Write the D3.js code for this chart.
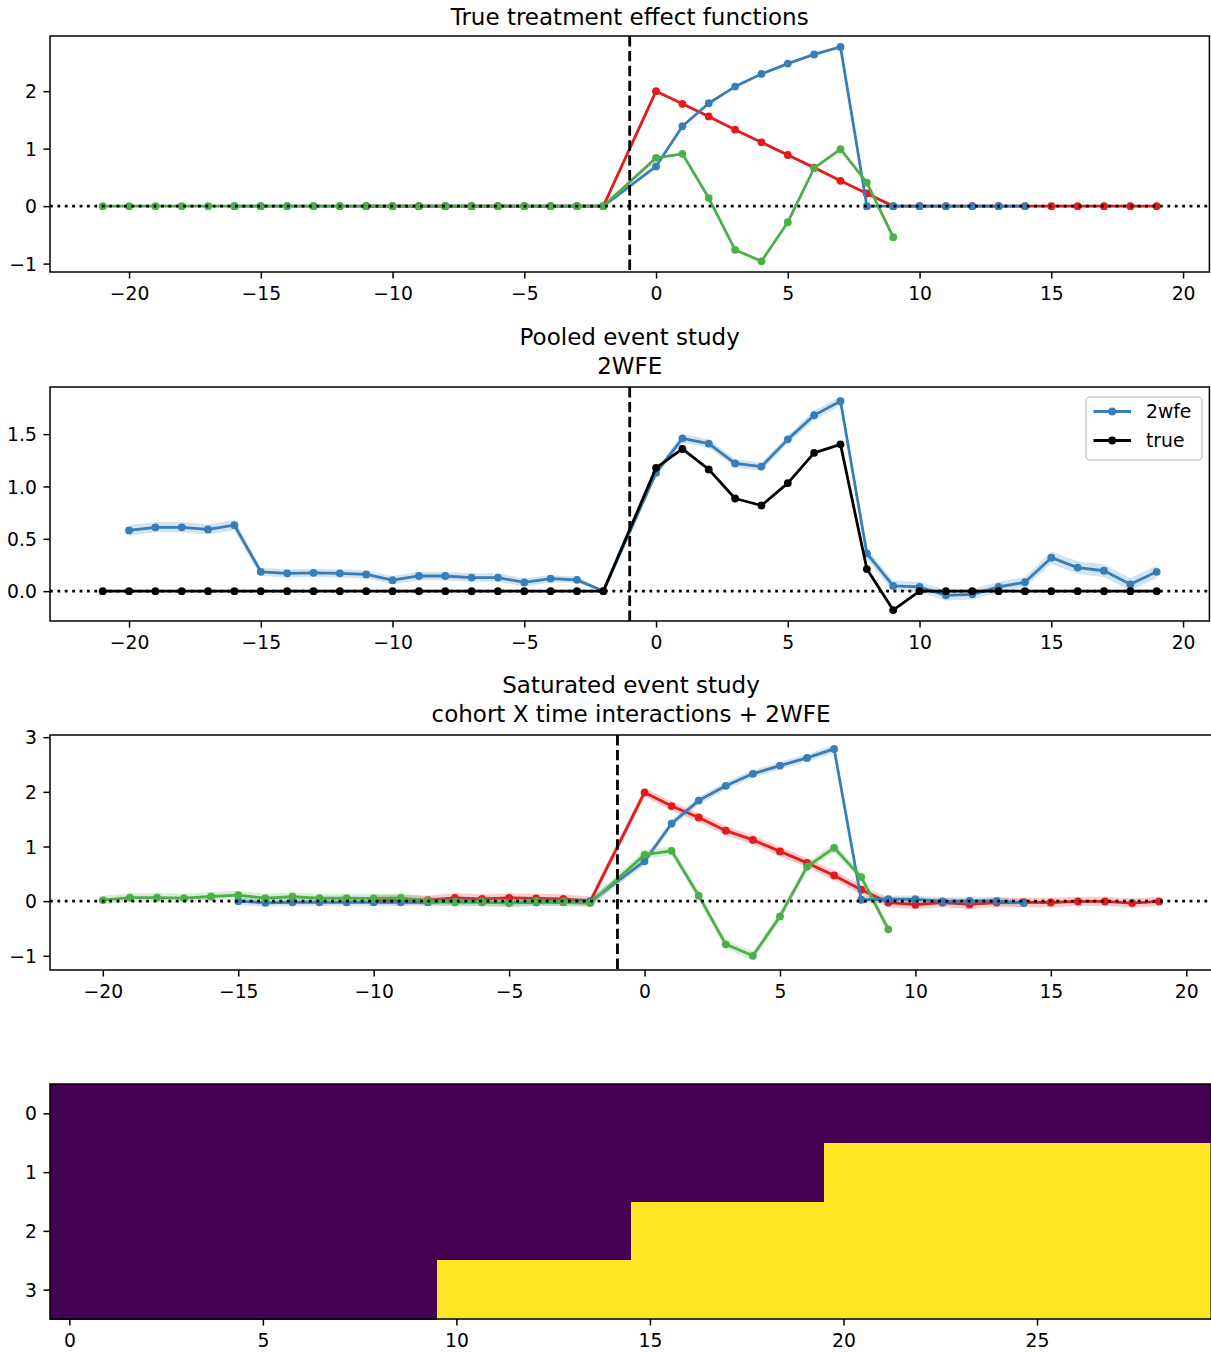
<!DOCTYPE html>
<html lang="en">
<head>
<meta charset="UTF-8">
<title>event study panels</title>
<style>
  body { margin: 0; background: #fff; }
  svg text { font-family: "DejaVu Sans", sans-serif; fill: #000; }
</style>
</head>
<body>
<div id="container"></div>
<script src="https://d3js.org/d3.v7.min.js"></script>
<script>
// event times from a to b, reference period -1 left out
function evt(a, b) { return d3.range(a, b + 1).filter(function(t) { return t !== -1; }); }

// ---- panel 1: true treatment effect functions ----
var p1RedT = evt(-11, 19);
var p1Red = [0,0,0,0,0,0,0,0,0,0, 2.00,1.78,1.56,1.33,1.11,0.89,0.67,0.44,0.22,0.00, 0,0,0,0,0,0,0,0,0,0];
var p1BlueT = evt(-16, 14);
var p1Blue = [0,0,0,0,0,0,0,0,0,0,0,0,0,0,0, 0.69,1.39,1.79,2.08,2.30,2.48,2.64,2.77,0,0,0,0,0,0,0];
var p1GreenT = evt(-21, 9);
var p1Green = [0,0,0,0,0,0,0,0,0,0,0,0,0,0,0,0,0,0,0,0, 0.84,0.91,0.14,-0.76,-0.96,-0.28,0.66,0.99,0.41,-0.54];

// ---- panel 2: pooled event study ----
var p2TrueT = evt(-21, 19);
var p2True = [0,0,0,0,0,0,0,0,0,0,0,0,0,0,0,0,0,0,0,0,
  1.178,1.358,1.163,0.885,0.818,1.032,1.321,1.402,0.211,-0.181, 0,0,0,0,0,0,0,0,0,0];
var p2EstT = evt(-20, 19);
var p2Est = [0.58,0.61,0.61,0.59,0.63,0.185,0.17,0.175,0.17,0.16,0.105,0.145,0.145,0.13,0.13,0.083,0.12,0.108,0.0,
  1.13,1.46,1.41,1.22,1.19,1.45,1.68,1.815,0.36,0.05,0.04,-0.04,-0.03,0.04,0.085,0.32,0.225,0.195,0.065,0.185];
var p2Err = [0.05,0.05,0.05,0.05,0.05,0.04,0.04,0.04,0.04,0.04,0.04,0.04,0.04,0.04,0.04,0.04,0.035,0.03,0.0,
  0.035,0.04,0.04,0.04,0.04,0.04,0.045,0.045,0.05,0.05,0.05,0.05,0.05,0.05,0.05,0.06,0.06,0.06,0.06,0.06];

// ---- panel 3: saturated event study ----
var p3RedT = evt(-10, 19);
var p3Red = [0.03,0.03,0.02,0.06,0.04,0.06,0.05,0.04,0.0,
  1.99,1.74,1.53,1.29,1.12,0.91,0.70,0.47,0.21,-0.025,-0.065,-0.025,-0.06,-0.025,-0.02,-0.025,-0.005,-0.005,-0.035,-0.005];
var p3BlueT = evt(-15, 14);
var p3Blue = [0.0,-0.03,-0.02,-0.02,-0.02,-0.02,-0.02,-0.02,-0.01,-0.02,-0.03,-0.02,-0.02,-0.01,
  0.73,1.42,1.84,2.11,2.33,2.48,2.62,2.785,0.025,0.035,0.035,-0.005,0.005,0.005,-0.035];
var p3GreenT = evt(-20, 9);
var p3Green = [0.02,0.065,0.065,0.055,0.085,0.11,0.055,0.08,0.055,0.055,0.05,0.06,0.005,-0.02,-0.01,-0.035,0.0,-0.01,-0.035,
  0.85,0.92,0.10,-0.79,-1.0,-0.28,0.63,0.975,0.44,-0.515];
var p3RedErr = 0.085, p3BlueErr = 0.07, p3GreenErr = 0.08;

// ---- panel 4: treatment indicator, cohort x period ----
var heatRows = [
  "000000000000000000000000000000",
  "000000000000000000001111111111",
  "000000000000000111111111111111",
  "000000000011111111111111111111"
];

var eventTicks = [-20, -15, -10, -5, 0, 5, 10, 15, 20];
var heatXTicks = [0, 5, 10, 15, 20, 25];
var heatYTicks = [0, 1, 2, 3];

var RED = "#e41a1c", BLUE = "#377eb8", GREEN = "#4daf4a", BLACK = "#000000";

var W = 1211, H = 1352;
var tickFont = 18.75, titleFont = 23, tickLen = 6.56;
var lw = 2.8, dotR = 3.9;

var svg = d3.select("#container").append("svg")
    .attr("width", W)
    .attr("height", H);

function addAxes(g, x, y, box, xt, yt, yfmt) {
  var xa = g.append("g")
      .attr("transform", "translate(0," + box.bottom + ")")
      .call(d3.axisBottom(x).tickValues(xt).tickSize(tickLen).tickPadding(tickLen).tickFormat(d3.format("d")));
  var ya = g.append("g")
      .attr("transform", "translate(" + box.left + ",0)")
      .call(d3.axisLeft(y).tickValues(yt).tickSize(tickLen).tickPadding(tickLen).tickFormat(yfmt));
  [xa, ya].forEach(function(a) {
    a.select(".domain").remove();
    a.selectAll("line").attr("stroke", "#000").attr("stroke-width", 1.5);
    a.selectAll("text").attr("font-size", tickFont).attr("font-family", "DejaVu Sans");
  });
  xa.selectAll("text").attr("dy", "0.78em");
  ya.selectAll("text").attr("dy", "0.35em");
  g.append("rect")
      .attr("x", box.left).attr("y", box.top)
      .attr("width", box.right - box.left).attr("height", box.bottom - box.top)
      .attr("fill", "none").attr("stroke", "#000").attr("stroke-width", 1.5);
}

function addTitle(box, lines) {
  var cx = (box.left + box.right) / 2;
  var base = box.top - (lines.length > 1 ? 13.5 : 11.5);
  lines.slice().reverse().forEach(function(s, i) {
    svg.append("text")
        .attr("x", cx).attr("y", base - i * 28.5)
        .attr("text-anchor", "middle")
        .attr("font-size", titleFont)
        .text(s);
  });
}

function linePanel(name, box, xDom, yDom, yt, yfmt, series, titleLines) {
  var x = d3.scaleLinear().domain(xDom).range([box.left, box.right]);
  var y = d3.scaleLinear().domain(yDom).range([box.bottom, box.top]);
  var g = svg.append("g");

  g.append("clipPath").attr("id", "clip-" + name).append("rect")
      .attr("x", box.left).attr("y", box.top)
      .attr("width", box.right - box.left).attr("height", box.bottom - box.top);
  var plot = g.append("g").attr("clip-path", "url(#clip-" + name + ")");

  series.forEach(function(s) {
    var pts = s.t.map(function(t, i) {
      var e = s.err == null ? 0 : (Array.isArray(s.err) ? s.err[i] : s.err);
      return {t: t, v: s.v[i], e: e};
    });
    if (s.err != null) {
      plot.append("path")
          .datum(pts)
          .attr("fill", s.color)
          .attr("fill-opacity", 0.22)
          .attr("d", d3.area()
              .x(function(d) { return x(d.t); })
              .y0(function(d) { return y(d.v - d.e); })
              .y1(function(d) { return y(d.v + d.e); }));
    }
    plot.append("path")
        .datum(pts)
        .attr("fill", "none")
        .attr("stroke", s.color)
        .attr("stroke-width", lw)
        .attr("stroke-linejoin", "round")
        .attr("d", d3.line().x(function(d) { return x(d.t); }).y(function(d) { return y(d.v); }));
    plot.append("g").selectAll("circle")
        .data(pts)
        .enter().append("circle")
        .attr("cx", function(d) { return x(d.t); })
        .attr("cy", function(d) { return y(d.v); })
        .attr("r", dotR)
        .attr("fill", s.color);
  });

  // reference lines: y = 0 dotted, event time -1 dashed
  plot.append("line")
      .attr("x1", box.left).attr("x2", box.right)
      .attr("y1", y(0)).attr("y2", y(0))
      .attr("stroke", "#000").attr("stroke-width", lw)
      .attr("stroke-dasharray", "2.8,4.6");
  plot.append("line")
      .attr("x1", x(-1)).attr("x2", x(-1))
      .attr("y1", box.top).attr("y2", box.bottom)
      .attr("stroke", "#000").attr("stroke-width", lw)
      .attr("stroke-dasharray", "10.4,4.5");

  addAxes(g, x, y, box, eventTicks, yt, yfmt);
  addTitle(box, titleLines);
  return g;
}

// panel 1
var box1 = {left: 50, right: 1209.4, top: 36, bottom: 272};
linePanel("p1", box1, [-23, 21], [-1.146, 2.96], [-1, 0, 1, 2], d3.format("d"), [
  {t: p1RedT, v: p1Red, color: RED},
  {t: p1BlueT, v: p1Blue, color: BLUE},
  {t: p1GreenT, v: p1Green, color: GREEN}
], ["True treatment effect functions"]);

// panel 2
var box2 = {left: 50, right: 1209.4, top: 387, bottom: 621};
var g2 = linePanel("p2", box2, [-23, 21], [-0.285, 1.95], [0, 0.5, 1.0, 1.5], d3.format(".1f"), [
  {t: p2EstT, v: p2Est, err: p2Err, color: BLUE},
  {t: p2TrueT, v: p2True, color: BLACK}
], ["Pooled event study", "2WFE"]);

// legend
var leg = g2.append("g").attr("transform", "translate(1086,397)");
leg.append("rect")
    .attr("width", 116).attr("height", 63).attr("rx", 4)
    .attr("fill", "#fff").attr("fill-opacity", 0.8)
    .attr("stroke", "#cccccc").attr("stroke-width", 1.5);
[{label: "2wfe", color: BLUE}, {label: "true", color: BLACK}].forEach(function(d, i) {
  var yy = 14.5 + i * 29;
  leg.append("line")
      .attr("x1", 7.5).attr("x2", 45).attr("y1", yy).attr("y2", yy)
      .attr("stroke", d.color).attr("stroke-width", lw);
  leg.append("circle").attr("cx", 26.25).attr("cy", yy).attr("r", dotR).attr("fill", d.color);
  leg.append("text")
      .attr("x", 60).attr("y", yy).attr("dy", "0.35em")
      .attr("font-size", tickFont)
      .text(d.label);
});

// panel 3
var box3 = {left: 50, right: 1212, top: 735, bottom: 970};
linePanel("p3", box3, [-21.95, 20.95], [-1.26, 3.04], [-1, 0, 1, 2, 3], d3.format("d"), [
  {t: p3RedT, v: p3Red, err: p3RedErr, color: RED},
  {t: p3BlueT, v: p3Blue, err: p3BlueErr, color: BLUE},
  {t: p3GreenT, v: p3Green, err: p3GreenErr, color: GREEN}
], ["Saturated event study", "cohort X time interactions + 2WFE"]);

// panel 4: heatmap
var box4 = {left: 50, right: 1211.2, top: 1084, bottom: 1319};
var hx = d3.scaleLinear().domain([-0.5, 29.5]).range([box4.left, box4.right]);
var hy = d3.scaleLinear().domain([-0.5, 3.5]).range([box4.top, box4.bottom]);
var hcolor = d3.scaleOrdinal().domain(["0", "1"]).range(["#440154", "#fde725"]);
var cells = [];
heatRows.forEach(function(row, r) {
  row.split("").forEach(function(c, k) { cells.push({r: r, c: k, v: c}); });
});
var g4 = svg.append("g");
g4.selectAll("rect.cell")
    .data(cells)
    .enter().append("rect")
    .attr("class", "cell")
    .attr("x", function(d) { return hx(d.c - 0.5); })
    .attr("y", function(d) { return hy(d.r - 0.5); })
    .attr("width", function(d) { return hx(d.c + 0.5) - hx(d.c - 0.5) + 0.5; })
    .attr("height", function(d) { return hy(d.r + 0.5) - hy(d.r - 0.5) + 0.5; })
    .attr("fill", function(d) { return hcolor(d.v); })
    .attr("shape-rendering", "crispEdges");
addAxes(g4, hx, hy, box4, heatXTicks, heatYTicks, d3.format("d"));
</script>
</body>
</html>
